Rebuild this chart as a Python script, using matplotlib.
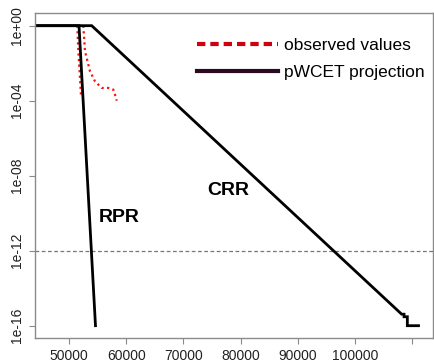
import matplotlib
matplotlib.use("Agg")
import matplotlib.pyplot as plt
from matplotlib.lines import Line2D

plt.rcParams["font.family"] = ["Liberation Sans", "DejaVu Sans"]

# observed exceedance curves (execution time, exceedance probability)
obs_a_x = [51450, 51630, 51920, 52100]
obs_a_p = [1.0, 4.5e-2, 1.6e-3, 1.8e-4]
obs_b_x = [52500, 52800, 53670, 54550, 55720, 56870, 57750, 58040, 58340]
obs_b_p = [1.0, 4.3e-2, 3.7e-3, 1.07e-3, 4.8e-4, 4.8e-4, 3.9e-4, 2.1e-4, 1.0e-4]

# pWCET projections
rpr_x = [44056, 51750, 54630]
rpr_p = [1.0, 1.0, 1e-16]
crr_x = [44056, 53970, 108160, 108570, 108570, 109150, 109150, 111100]
crr_p = [1.0, 1.0, 4.1e-16, 4.1e-16, 3.0e-16, 3.0e-16, 1e-16, 1e-16]

target_p = 1e-12
x_ticks = [50000, 60000, 70000, 80000, 90000, 100000, 110000]
x_labels = ["50000", "60000", "70000", "80000", "90000", "100000", ""]
y_ticks = [1e0, 1e-4, 1e-8, 1e-12, 1e-16]
y_labels = ["1e+00", "1e-04", "1e-08", "1e-12", "1e-16"]

RED = "#ff1010"
GREY = "#8a8a8a"

fig = plt.figure(figsize=(4.34, 3.64), dpi=100)
ax = fig.add_axes([35 / 434, 26.3 / 364, 398 / 434, 324.4 / 364])

ax.axhline(target_p, color="#777777", lw=0.9, ls=(0, (3, 2)))

ax.plot(obs_a_x, obs_a_p, color=RED, lw=1.6, ls=(0, (1, 1.5)))
ax.plot(obs_b_x, obs_b_p, color=RED, lw=1.6, ls=(0, (1, 1.5)))
ax.plot(rpr_x, rpr_p, color="black", lw=2.0, solid_joinstyle="miter")
ax.plot(crr_x, crr_p, color="black", lw=2.0, solid_joinstyle="miter")

ax.text(77920, 1.7e-9, "CRR", fontsize=14, fontweight="bold", ha="center", va="center")
ax.text(58740, 5.9e-11, "RPR", fontsize=14, fontweight="bold", ha="center", va="center")

ax.set_yscale("log")
ax.set_xlim(44056, 113636)
ax.set_ylim(10 ** -16.64, 10 ** 0.66)

ax.set_xticks(x_ticks)
ax.set_xticklabels(x_labels, fontsize=10)
ax.set_yticks(y_ticks)
ax.set_yticklabels(y_labels, fontsize=10, rotation=90, va="center")
ax.minorticks_off()
ax.tick_params(length=4, width=0.8, color=GREY, pad=4, labelcolor="#222222")
for sp in ax.spines.values():
    sp.set_color(GREY)
    sp.set_linewidth(1.0)

handles = [
    Line2D([], [], color="#d00010", lw=3, ls=(0, (2, 1.2))),
    Line2D([], [], color="#2a0a20", lw=3),
]
ax.legend(handles, ["observed values", "pWCET projection"], loc="upper left",
          bbox_to_anchor=(0.406, 0.925), frameon=False, fontsize=12.5,
          handlelength=4.7, handletextpad=0.35, labelspacing=0.72,
          borderaxespad=0, borderpad=0)

fig.savefig("out.png", dpi=100)
